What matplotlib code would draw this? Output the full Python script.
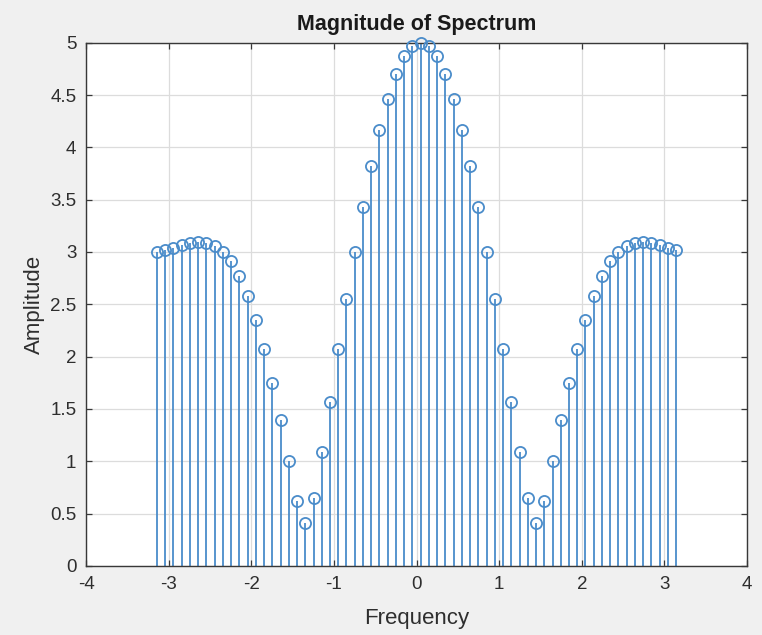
import numpy as np
import matplotlib
matplotlib.use("Agg")
import matplotlib.pyplot as plt

# Frequency grid (rad/sample) and spectrum magnitude at each sample
n_points = 64
frequency = np.linspace(-np.pi, np.pi, n_points)
amplitude = [
    3.00, 3.02, 3.04, 3.07, 3.09, 3.10, 3.09, 3.06, 3.00, 2.91,
    2.77, 2.58, 2.35, 2.07, 1.75, 1.39, 1.00, 0.62, 0.41, 0.65,
    1.09, 1.57, 2.07, 2.55, 3.00, 3.43, 3.82, 4.17, 4.46, 4.70,
    4.87, 4.97, 5.00, 4.97, 4.87, 4.70, 4.46, 4.17, 3.82, 3.43,
    3.00, 2.55, 2.07, 1.57, 1.09, 0.65, 0.41, 0.62, 1.00, 1.39,
    1.75, 2.07, 2.35, 2.58, 2.77, 2.91, 3.00, 3.06, 3.09, 3.10,
    3.09, 3.07, 3.04, 3.02,
]
x_ticks = [-4, -3, -2, -1, 0, 1, 2, 3, 4]
y_ticks = [0, 0.5, 1, 1.5, 2, 2.5, 3, 3.5, 4, 4.5, 5]
x_tick_labels = ["-4", "-3", "-2", "-1", "0", "1", "2", "3", "4"]
y_tick_labels = ["0", "0.5", "1", "1.5", "2", "2.5", "3", "3.5", "4", "4.5", "5"]

plt.rcParams["font.family"] = ["Liberation Sans", "DejaVu Sans"]

stem_color = "#4a8cca"
text_color = "#2e2e2e"
axis_color = "#383838"

fig = plt.figure(figsize=(7.62, 6.35), dpi=100, facecolor="#f0f0f0")
ax = fig.add_axes([0.1129, 0.1087, 0.8675, 0.8241])
ax.set_facecolor("white")

markerline, stemlines, baseline = ax.stem(frequency, amplitude)
plt.setp(stemlines, color=stem_color, linewidth=1.3)
plt.setp(markerline, marker="o", markersize=8.0, markerfacecolor="none",
         markeredgecolor=stem_color, markeredgewidth=1.3, linestyle="none",
         clip_on=False, zorder=3)
baseline.set_visible(False)

ax.set_xlim(-4, 4)
ax.set_ylim(0, 5)
ax.set_xticks(x_ticks)
ax.set_xticklabels(x_tick_labels)
ax.set_yticks(y_ticks)
ax.set_yticklabels(y_tick_labels)

ax.grid(True, color="#dcdcdc", linewidth=0.9)
ax.set_axisbelow(True)

ax.tick_params(axis="both", which="both", direction="in", length=4,
               width=0.9, colors=axis_color, labelcolor=text_color,
               labelsize=13.5, top=True, right=True, pad=7)
for spine in ax.spines.values():
    spine.set_color(axis_color)
    spine.set_linewidth(1.0)

ax.set_title("Magnitude of Spectrum", fontsize=15.5, fontweight="bold",
             color="#1a1a1a", pad=9)
ax.set_xlabel("Frequency", fontsize=16, color=text_color, labelpad=11)
ax.set_ylabel("Amplitude", fontsize=16, color=text_color, labelpad=4)

fig.savefig("out.png", dpi=100, facecolor=fig.get_facecolor())
